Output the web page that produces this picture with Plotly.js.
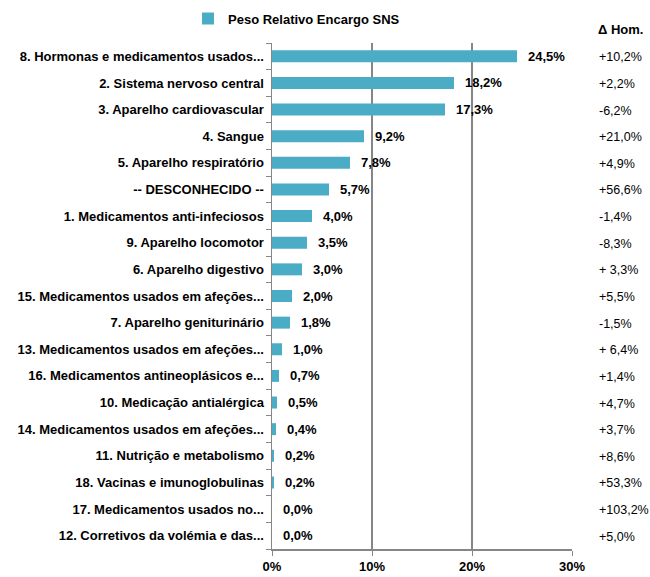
<!DOCTYPE html>
<html>
<head>
<meta charset="utf-8">
<script src="https://cdn.plot.ly/plotly-3.0.1.min.js"></script>
<style>html,body{margin:0;padding:0;background:#fff}#chart{width:650px;height:577px}</style>
</head>
<body>
<div id="chart"></div>
<script>
const categories = [
  "8. Hormonas e medicamentos usados...",
  "2. Sistema nervoso central",
  "3. Aparelho cardiovascular",
  "4. Sangue",
  "5. Aparelho respiratório",
  "-- DESCONHECIDO --",
  "1. Medicamentos anti-infeciosos",
  "9. Aparelho locomotor",
  "6. Aparelho digestivo",
  "15. Medicamentos usados em afeções...",
  "7. Aparelho geniturinário",
  "13. Medicamentos usados em afeções...",
  "16. Medicamentos antineoplásicos e...",
  "10. Medicação antialérgica",
  "14. Medicamentos usados em afeções...",
  "11. Nutrição e metabolismo",
  "18. Vacinas e imunoglobulinas",
  "17. Medicamentos usados no...",
  "12. Corretivos da volémia e das..."
];
const pesoRelativo = [24.5, 18.2, 17.3, 9.2, 7.8, 5.7, 4.0, 3.5, 3.0, 2.0, 1.8, 1.0, 0.7, 0.5, 0.4, 0.2, 0.2, 0.0, 0.0];
const deltaHom = ["+10,2%", "+2,2%", "-6,2%", "+21,0%", "+4,9%", "+56,6%", "-1,4%", "-8,3%", "+ 3,3%", "+5,5%", "-1,5%", "+ 6,4%", "+1,4%", "+4,7%", "+3,7%", "+8,6%", "+53,3%", "+103,2%", "+5,0%"];
const xTickVals = [0, 10, 20, 30];
const xTickText = ["0%", "10%", "20%", "30%"];

const yKeys = categories.map((c, i) => i);

const FONT = "Liberation Sans, Arial, sans-serif";
const fmt = v => v.toFixed(1).replace(".", ",") + "%";

const annotations = [];
pesoRelativo.forEach((v, i) => {
  annotations.push({
    x: v, y: yKeys[i], xref: "x", yref: "y",
    text: "<b>" + fmt(v) + "</b>", showarrow: false,
    xanchor: "left", xshift: 9,
    font: {family: FONT, size: 13, color: "#000"}
  });
  annotations.push({
    x: 1.083, y: yKeys[i], xref: "paper", yref: "y",
    text: deltaHom[i], showarrow: false, xanchor: "left", yshift: -1,
    font: {family: FONT, size: 12.5, color: "#000"}
  });
});
annotations.push({
  x: 1.08, y: 1.026, xref: "paper", yref: "paper",
  text: "<b>Δ Hom.</b>", showarrow: false, xanchor: "left", yanchor: "middle",
  font: {family: FONT, size: 13, color: "#000"}
});

const trace = {
  type: "bar",
  orientation: "h",
  x: pesoRelativo,
  y: yKeys,
  name: "<b>Peso Relativo Encargo SNS</b>",
  marker: {color: "#4BACC6"},
  width: 0.45,
  hoverinfo: "x"
};

const layout = {
  width: 650, height: 577,
  margin: {l: 272, r: 78, t: 43, b: 28, autoexpand: false},
  paper_bgcolor: "#fff", plot_bgcolor: "#fff",
  font: {family: FONT, size: 13, color: "#000"},
  showlegend: true,
  legend: {
    orientation: "h", x: -0.28, xanchor: "left", y: 1.078, yanchor: "top",
    font: {family: FONT, size: 13, color: "#000"},
    itemwidth: 30, bgcolor: "rgba(0,0,0,0)"
  },
  xaxis: {
    range: [0, 30], tickvals: xTickVals, ticktext: xTickText,
    showgrid: true, gridcolor: "#868686", gridwidth: 1.5,
    showline: true, linecolor: "#868686", linewidth: 1.5,
    ticks: "outside", ticklen: 5, tickcolor: "#868686",
    tickfont: {family: FONT, size: 13, color: "#000", weight: "bold"},
    zeroline: false, fixedrange: true
  },
  yaxis: {
    type: "category",
    tickvals: yKeys, ticktext: categories.map(c => "<b>" + c + "</b>"),
    autorange: "reversed",
    showline: true, linecolor: "#868686", linewidth: 1.5,
    ticks: "outside", ticklen: 5, tickcolor: "#868686", tickson: "boundaries",
    tickfont: {family: FONT, size: 13, color: "#000"},
    showgrid: false, zeroline: false, fixedrange: true, ticklabelstandoff: 4
  },
  annotations: annotations,
  bargap: 0.55
};

Plotly.newPlot("chart", [trace], layout, {displayModeBar: false, staticPlot: true});
</script>
</body>
</html>
